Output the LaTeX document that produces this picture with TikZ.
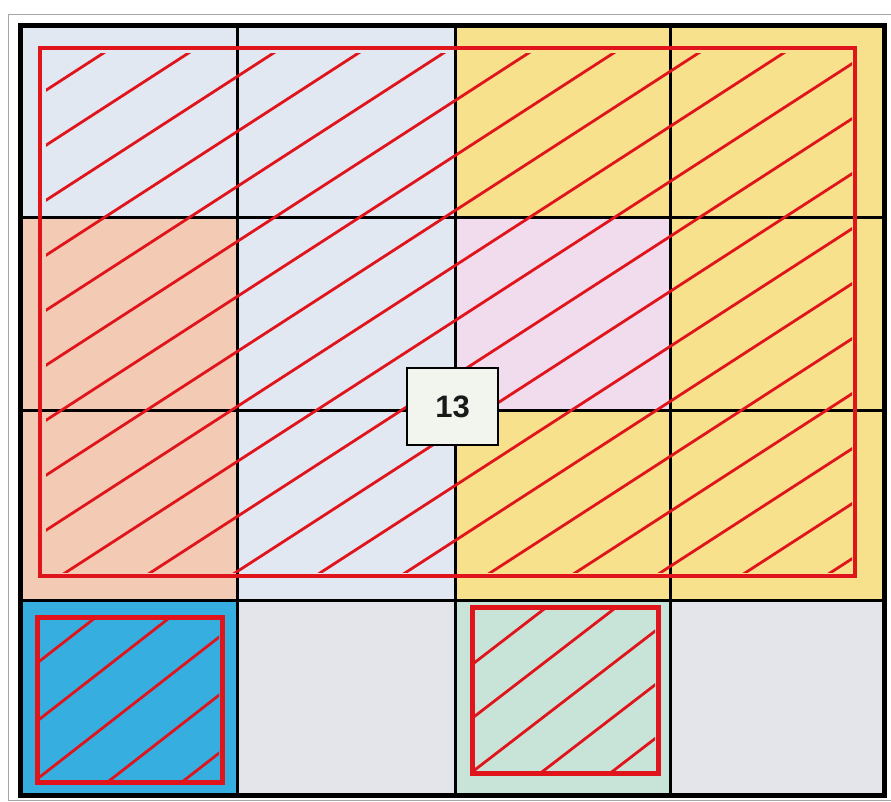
\documentclass[tikz,border=0pt]{standalone}
\usepackage{fontspec}
\setmainfont{Liberation Sans}
\definecolor{cLB}{HTML}{E2E8F2}
\definecolor{cYe}{HTML}{F8E18C}
\definecolor{cSa}{HTML}{F3CBB5}
\definecolor{cPk}{HTML}{F1DCEE}
\definecolor{cBl}{HTML}{37AEE0}
\definecolor{cGr}{HTML}{E3E5EB}
\definecolor{cMi}{HTML}{C8E4D9}
\definecolor{cRed}{HTML}{E0141B}
\definecolor{cBox}{HTML}{F2F4EE}
\begin{document}
\begin{tikzpicture}[x=1pt,y=-1pt,
  gridline/.style={black,line width=3pt},
  hatch/.style={cRed,line width=2.8pt},
  redframe/.style={cRed,line width=4.8pt},
  numbox/.style={draw=black,line width=2.2pt,fill=cBox,minimum width=91pt,minimum height=77pt,inner sep=0pt,text=black!90,font=\fontsize{31}{31}\selectfont\bfseries}]
\useasboundingbox (0,0) rectangle (891,802);
\fill[white] (0,0) rectangle (891,802);
\draw[gray!70,line width=0.8pt] (8,14) rectangle (900,800);
% cells
\fill[cLB] (20,26) rectangle (237,218);
\fill[cLB] (237,26) rectangle (455,218);
\fill[cYe] (455,26) rectangle (670,218);
\fill[cYe] (670,26) rectangle (884,218);
\fill[cSa] (20,218) rectangle (237,410);
\fill[cLB] (237,218) rectangle (455,410);
\fill[cPk] (455,218) rectangle (670,410);
\fill[cYe] (670,218) rectangle (884,410);
\fill[cSa] (20,410) rectangle (237,600);
\fill[cLB] (237,410) rectangle (455,600);
\fill[cYe] (455,410) rectangle (670,600);
\fill[cYe] (670,410) rectangle (884,600);
\fill[cBl] (20,600) rectangle (237,795);
\fill[cGr] (237,600) rectangle (455,795);
\fill[cMi] (455,600) rectangle (670,795);
\fill[cGr] (670,600) rectangle (884,795);
% grid
\draw[gridline] (237,26) -- (237,795);
\draw[gridline] (455,26) -- (455,795);
\draw[gridline] (670,26) -- (670,795);
\draw[gridline] (20,218) -- (884,218);
\draw[gridline] (20,410) -- (884,410);
\draw[gridline] (20,600) -- (884,600);
\draw[black,line width=5pt] (20,26) rectangle (884,795);
% big hatched rectangle
\begin{scope}
  \clip (46,54) rectangle (852,572);
  \foreach \k in {0,...,18} {
    \draw[hatch] (0,{120+55*\k}) -- (900,{120+55*\k-0.647*900});
  }
\end{scope}
\draw[redframe] (40,48) rectangle (855,576);
% small square 1
\begin{scope}
  \clip (40,620) rectangle (219,779);
  \foreach \k in {0,...,4} {
    \draw[hatch] (0,{692+58*\k}) -- (300,{692+58*\k-0.78*300});
  }
\end{scope}
\draw[redframe,line width=5pt] (37,617) rectangle (222,782);
% small square 2
\begin{scope}
  \clip (475,610) rectangle (655,770);
  \foreach \k in {0,...,4} {
    \draw[hatch] (400,{1028+53.75*\k-0.77*400}) -- (700,{1028+53.75*\k-0.77*700});
  }
\end{scope}
\draw[redframe,line width=5pt] (472,607) rectangle (658,773);
% label
\node[numbox] (n13) at (452.5,406.5) {13};
\end{tikzpicture}
\end{document}
